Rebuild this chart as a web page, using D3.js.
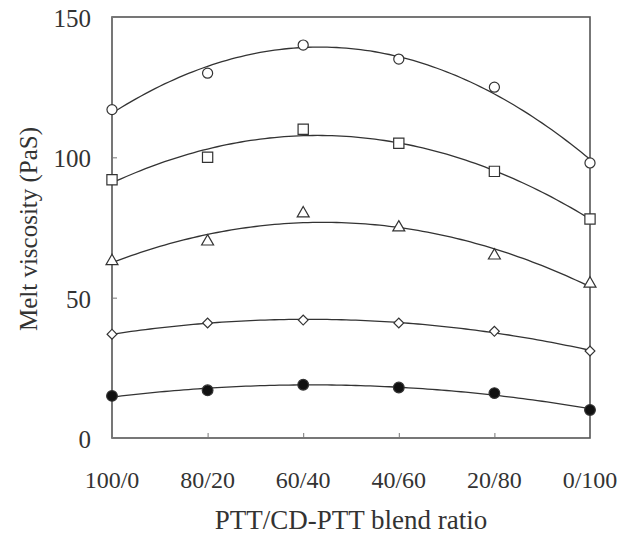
<!DOCTYPE html>
<html>
<head>
<meta charset="utf-8">
<script src="https://cdn.jsdelivr.net/npm/d3@7"></script>
<style>
  body { margin: 0; background: #fff; }
  svg text { font-family: "Liberation Serif", "DejaVu Serif", serif; fill: #333; }
</style>
</head>
<body>
<svg width="620" height="537"></svg>
<script>
// blend ratios along x
const ratios = ["100/0", "80/20", "60/40", "40/60", "20/80", "0/100"];
const yTicks = [0, 50, 100, 150];

// melt viscosity, one array per symbol
const circleVals   = [117, 130, 140, 135, 125, 98];
const squareVals   = [92, 100, 110, 105, 95, 78];
const triangleVals = [63, 70, 80, 75, 65, 55];
const diamondVals  = [37, 41, 42, 41, 38, 31];
const filledVals   = [15, 17, 19, 18, 16, 10];

const series = [
  { vals: circleVals,   sym: d3.symbolCircle,   size: 80,  fill: "#fff", rot: 0 },
  { vals: squareVals,   sym: d3.symbolSquare,   size: 105, fill: "#fff", rot: 0 },
  { vals: triangleVals, sym: d3.symbolTriangle, size: 62,  fill: "#fff", rot: 0 },
  { vals: diamondVals,  sym: d3.symbolSquare,   size: 48,  fill: "#fff", rot: 45 },
  { vals: filledVals,   sym: d3.symbolCircle,   size: 90,  fill: "#111", rot: 0 }
];

const mLeft = 112, mRight = 590, mTop = 17, mBottom = 438;
const svg = d3.select("svg");

const x = d3.scalePoint().domain(ratios).range([mLeft, mRight]);
const y = d3.scaleLinear().domain([0, 150]).range([mBottom, mTop]);

// 2nd order polynomial trend line (least squares), like the original plot
function quadFit(vals) {
  let s = [0, 0, 0, 0, 0], t = [0, 0, 0];
  vals.forEach((v, i) => {
    for (let k = 0; k < 5; k++) s[k] += Math.pow(i, k);
    for (let k = 0; k < 3; k++) t[k] += v * Math.pow(i, k);
  });
  // solve 3x3 normal equations
  const A = [[s[0], s[1], s[2], t[0]], [s[1], s[2], s[3], t[1]], [s[2], s[3], s[4], t[2]]];
  for (let c = 0; c < 3; c++) {
    for (let r = c + 1; r < 3; r++) {
      const f = A[r][c] / A[c][c];
      for (let k = c; k < 4; k++) A[r][k] -= f * A[c][k];
    }
  }
  const b = [0, 0, 0];
  for (let r = 2; r >= 0; r--) {
    let acc = A[r][3];
    for (let k = r + 1; k < 3; k++) acc -= A[r][k] * b[k];
    b[r] = acc / A[r][r];
  }
  return t0 => b[0] + b[1] * t0 + b[2] * t0 * t0;
}

const step = x.step();
const line = d3.line().x(d => mLeft + d[0] * step).y(d => y(d[1]));

series.forEach(s => {
  const f = quadFit(s.vals);
  const pts = d3.range(0, 5.001, 0.05).map(t0 => [t0, f(t0)]);
  svg.append("path")
    .attr("d", line(pts))
    .attr("fill", "none")
    .attr("stroke", "#333")
    .attr("stroke-width", 1.3);
});

// frame
svg.append("rect")
  .attr("x", mLeft).attr("y", mTop)
  .attr("width", mRight - mLeft).attr("height", mBottom - mTop)
  .attr("fill", "none").attr("stroke", "#555").attr("stroke-width", 1.6);

// y axis, ticks inward
const yAxis = svg.append("g").attr("transform", `translate(${mLeft},0)`)
  .call(d3.axisRight(y).tickValues(yTicks).tickSize(5).tickFormat(""));
yAxis.select(".domain").remove();
yAxis.selectAll("line").attr("stroke", "#777");
svg.selectAll(".ylab").data(yTicks).enter().append("text")
  .attr("x", 91).attr("y", d => y(d) + 10)
  .attr("text-anchor", "end").attr("font-size", 25)
  .text(d => d);

// x axis, ticks inward
const xAxis = svg.append("g").attr("transform", `translate(0,${mBottom})`)
  .call(d3.axisTop(x).tickSize(5).tickFormat(""));
xAxis.select(".domain").remove();
xAxis.selectAll("line").attr("stroke", "#777");
svg.selectAll(".xlab").data(ratios).enter().append("text")
  .attr("x", d => x(d)).attr("y", 488)
  .attr("text-anchor", "middle").attr("font-size", 24)
  .text(d => d);

// markers
series.forEach(s => {
  svg.append("g").selectAll("path").data(s.vals).enter().append("path")
    .attr("transform", (d, i) => `translate(${x(ratios[i])},${y(d)}) rotate(${s.rot})`)
    .attr("d", d3.symbol().type(s.sym).size(s.size))
    .attr("fill", s.fill)
    .attr("stroke", "#333").attr("stroke-width", 1.2);
});

// axis titles
svg.append("text")
  .attr("transform", "translate(37,229) rotate(-90)")
  .attr("text-anchor", "middle").attr("font-size", 25)
  .text("Melt viscosity (PaS)");
svg.append("text")
  .attr("x", 351).attr("y", 529)
  .attr("text-anchor", "middle").attr("font-size", 27)
  .text("PTT/CD-PTT blend ratio");
</script>
</body>
</html>
